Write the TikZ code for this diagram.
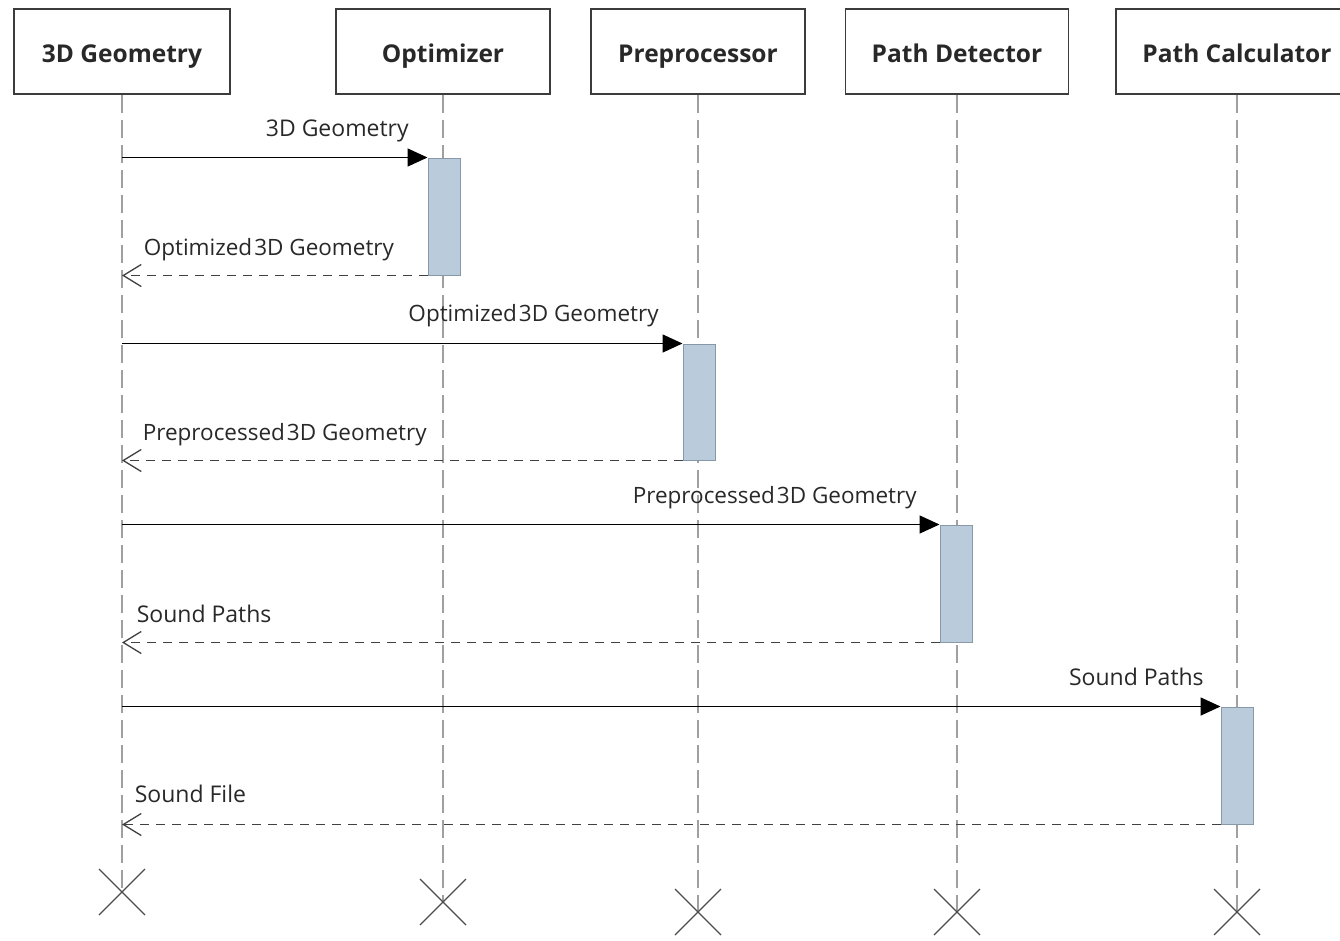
\documentclass[tikz,border=0pt]{standalone}
\usepackage{fontspec}
\setmainfont{Open Sans}
\usetikzlibrary{arrows.meta}

\definecolor{actfill}{RGB}{186,204,220}
\definecolor{actline}{RGB}{135,152,168}
\definecolor{headline}{RGB}{60,60,60}
\definecolor{lifeline}{RGB}{160,160,160}
\definecolor{txt}{RGB}{40,40,40}

\begin{document}
\begin{tikzpicture}[x=1pt,y=-1pt,
  head/.style={draw=headline, line width=1.5pt, fill=white, minimum height=85pt,
    inner sep=0pt, text height=22pt, text depth=1pt, text=txt,
    font=\bfseries\fontsize{24.5}{26}\selectfont},
  life/.style={draw=lifeline, line width=1.2pt, dash pattern=on 18pt off 7pt},
  act/.style={draw=actline, line width=1pt, fill=actfill, minimum width=32pt, inner sep=0pt},
  call/.style={draw=black, line width=1.6pt, -{Triangle[length=20pt,width=18pt]}},
  ret/.style={draw=black!75, line width=1.5pt, dash pattern=on 9pt off 7pt,
    -{Straight Barb[length=18pt,width=22pt,line width=1.3pt]}},
  lbl/.style={text=txt, inner sep=0pt, font=\fontsize{23}{26}\selectfont},
  longlbl/.style={lbl, font=\fontsize{22.5}{26}\selectfont},
  endx/.style={draw=black!70, line width=1.2pt}]
\useasboundingbox (0,0) rectangle (1340,940);

% participants
\node[head, minimum width=216pt] (geo) at (122,51.5) {3D Geometry};
\node[head, minimum width=214pt] (opt) at (443,51.5) {Optimizer};
\node[head, minimum width=214pt] (pre) at (698,51.5) {Preprocessor};
\node[head, minimum width=223pt] (pd)  at (957,51.5) {Path Detector};
\node[head, minimum width=242pt] (pc)  at (1237,51.5) {Path Calculator};

% lifeline ends
\coordinate (geoEnd) at (122,892);
\coordinate (optEnd) at (443,902);
\coordinate (preEnd) at (698,912);
\coordinate (pdEnd)  at (957,912);
\coordinate (pcEnd)  at (1237,912);

\foreach \p in {geo,opt,pre,pd,pc}{
  \draw[life] (\p.south) -- (\p End);
  \draw[endx] ([shift={(-23pt,-23pt)}]\p End) -- ([shift={(23pt,23pt)}]\p End)
              ([shift={(-23pt,23pt)}]\p End) -- ([shift={(23pt,-23pt)}]\p End);
}

% activations
\node[act, minimum height=117pt] (a1) at (444,216.5) {};
\node[act, minimum height=116pt] (a2) at (699,402) {};
\node[act, minimum height=117pt] (a3) at (956,583.5) {};
\node[act, minimum height=117pt] (a4) at (1237,765.5) {};

% messages
\draw[call] (geo.south |- a1.north west) -- (a1.north west)
  node[lbl, anchor=base east, xshift=-18pt, yshift=21pt] {3D Geometry};
\draw[ret] (a1.south west) -- (geo.south |- a1.south west)
  node[longlbl, anchor=base west, xshift=21pt, yshift=20pt] {Optimized\hspace{2pt}3D Geometry};

\draw[call] (geo.south |- a2.north west) -- (a2.north west)
  node[longlbl, anchor=base east, xshift=-23pt, yshift=22pt] {Optimized\hspace{2pt}3D Geometry};
\draw[ret] (a2.south west) -- (geo.south |- a2.south west)
  node[longlbl, anchor=base west, xshift=20pt, yshift=20pt] {Preprocessed\hspace{2pt}3D Geometry};

\draw[call] (geo.south |- a3.north west) -- (a3.north west)
  node[longlbl, anchor=base east, xshift=-22pt, yshift=21pt] {Preprocessed\hspace{2pt}3D Geometry};
\draw[ret] (a3.south west) -- (geo.south |- a3.south west)
  node[lbl, anchor=base west, xshift=14pt, yshift=20pt] {Sound Paths};

\draw[call] (geo.south |- a4.north west) -- (a4.north west)
  node[lbl, anchor=base east, xshift=-16pt, yshift=21pt] {Sound Paths};
\draw[ret] (a4.south west) -- (geo.south |- a4.south west)
  node[lbl, anchor=base west, xshift=12pt, yshift=22pt] {Sound File};
\end{tikzpicture}
\end{document}
